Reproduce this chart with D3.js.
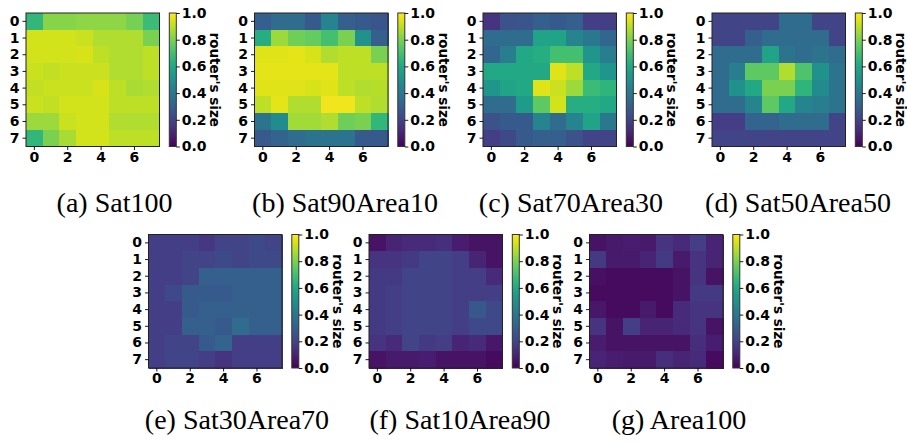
<!DOCTYPE html>
<html>
<head>
<meta charset="utf-8">
<script src="https://cdn.jsdelivr.net/npm/d3@7"></script>
<style>
  body { margin: 0; background: #fff; }
  svg { display: block; }
</style>
</head>
<body>
<svg id="chart" width="907" height="442"></svg>
<script>
// tick labels
var xTicks = [0, 2, 4, 6];
var yTicks = [0, 1, 2, 3, 4, 5, 6, 7];
var cbTicks = [0, 0.2, 0.4, 0.6, 0.8, 1.0];
var captions = ['(a) Sat100', '(b) Sat90Area10', '(c) Sat70Area30', '(d) Sat50Area50',
                '(e) Sat30Area70', '(f) Sat10Area90', '(g) Area100'];

// router's size per cell, rows 0..7 (top to bottom)
var sat100 = [
  [0.66, 0.82, 0.82, 0.83, 0.83, 0.83, 0.79, 0.68],
  [0.93, 0.93, 0.93, 0.92, 0.88, 0.88, 0.88, 0.80],
  [0.93, 0.93, 0.93, 0.94, 0.90, 0.88, 0.88, 0.90],
  [0.92, 0.91, 0.92, 0.92, 0.92, 0.88, 0.88, 0.90],
  [0.91, 0.92, 0.92, 0.92, 0.94, 0.90, 0.87, 0.88],
  [0.92, 0.91, 0.93, 0.93, 0.93, 0.90, 0.90, 0.90],
  [0.85, 0.85, 0.92, 0.93, 0.93, 0.88, 0.88, 0.88],
  [0.66, 0.80, 0.87, 0.93, 0.93, 0.90, 0.90, 0.90]
];
var sat90Area10 = [
  [0.30, 0.35, 0.35, 0.28, 0.45, 0.30, 0.28, 0.26],
  [0.62, 0.85, 0.78, 0.76, 0.70, 0.80, 0.50, 0.30],
  [0.95, 0.95, 0.96, 0.94, 0.88, 0.90, 0.90, 0.80],
  [0.96, 0.96, 0.96, 0.96, 0.96, 0.90, 0.90, 0.90],
  [0.95, 0.95, 0.95, 0.94, 0.95, 0.90, 0.88, 0.89],
  [0.90, 0.96, 0.88, 0.88, 0.98, 0.98, 0.90, 0.88],
  [0.38, 0.48, 0.86, 0.86, 0.88, 0.78, 0.80, 0.66],
  [0.28, 0.32, 0.35, 0.38, 0.38, 0.38, 0.28, 0.28]
];
var sat70Area30 = [
  [0.15, 0.25, 0.26, 0.30, 0.28, 0.30, 0.18, 0.18],
  [0.35, 0.35, 0.35, 0.58, 0.58, 0.45, 0.40, 0.33],
  [0.33, 0.42, 0.60, 0.62, 0.70, 0.70, 0.52, 0.42],
  [0.60, 0.60, 0.60, 0.60, 0.95, 0.90, 0.60, 0.52],
  [0.52, 0.58, 0.60, 0.95, 0.92, 0.85, 0.68, 0.65],
  [0.35, 0.35, 0.55, 0.75, 0.93, 0.62, 0.62, 0.60],
  [0.25, 0.28, 0.28, 0.45, 0.35, 0.45, 0.58, 0.40],
  [0.18, 0.22, 0.28, 0.30, 0.30, 0.25, 0.20, 0.20]
];
var sat50Area50 = [
  [0.20, 0.20, 0.20, 0.20, 0.35, 0.35, 0.20, 0.20],
  [0.20, 0.20, 0.30, 0.35, 0.35, 0.35, 0.35, 0.20],
  [0.35, 0.35, 0.35, 0.58, 0.38, 0.35, 0.38, 0.35],
  [0.35, 0.42, 0.75, 0.75, 0.88, 0.72, 0.50, 0.38],
  [0.35, 0.50, 0.60, 0.80, 0.80, 0.65, 0.48, 0.38],
  [0.35, 0.35, 0.45, 0.75, 0.60, 0.45, 0.42, 0.38],
  [0.18, 0.18, 0.32, 0.32, 0.35, 0.35, 0.35, 0.20],
  [0.20, 0.20, 0.20, 0.20, 0.20, 0.20, 0.20, 0.20]
];
var sat30Area70 = [
  [0.18, 0.18, 0.18, 0.16, 0.20, 0.20, 0.22, 0.20],
  [0.18, 0.18, 0.20, 0.20, 0.22, 0.20, 0.22, 0.22],
  [0.18, 0.18, 0.20, 0.30, 0.30, 0.30, 0.30, 0.30],
  [0.18, 0.22, 0.28, 0.28, 0.28, 0.30, 0.30, 0.30],
  [0.18, 0.18, 0.28, 0.30, 0.30, 0.30, 0.30, 0.30],
  [0.18, 0.18, 0.30, 0.30, 0.28, 0.35, 0.30, 0.30],
  [0.18, 0.20, 0.20, 0.28, 0.32, 0.18, 0.18, 0.18],
  [0.18, 0.20, 0.20, 0.18, 0.15, 0.18, 0.18, 0.18]
];
var sat10Area90 = [
  [0.05, 0.10, 0.12, 0.12, 0.14, 0.08, 0.05, 0.05],
  [0.15, 0.15, 0.17, 0.20, 0.20, 0.18, 0.10, 0.05],
  [0.17, 0.17, 0.20, 0.20, 0.20, 0.18, 0.18, 0.12],
  [0.17, 0.18, 0.20, 0.20, 0.20, 0.18, 0.18, 0.18],
  [0.17, 0.18, 0.20, 0.20, 0.20, 0.18, 0.27, 0.22],
  [0.17, 0.18, 0.20, 0.20, 0.20, 0.18, 0.22, 0.22],
  [0.15, 0.12, 0.20, 0.17, 0.18, 0.10, 0.12, 0.06],
  [0.05, 0.07, 0.07, 0.08, 0.05, 0.05, 0.05, 0.03]
];
var area100 = [
  [0.05, 0.07, 0.08, 0.07, 0.15, 0.12, 0.18, 0.10],
  [0.17, 0.07, 0.07, 0.10, 0.17, 0.07, 0.15, 0.10],
  [0.04, 0.03, 0.03, 0.03, 0.03, 0.05, 0.15, 0.05],
  [0.03, 0.03, 0.03, 0.03, 0.03, 0.05, 0.17, 0.17],
  [0.06, 0.03, 0.03, 0.07, 0.03, 0.12, 0.15, 0.15],
  [0.15, 0.05, 0.18, 0.10, 0.10, 0.12, 0.15, 0.05],
  [0.08, 0.05, 0.05, 0.05, 0.05, 0.05, 0.13, 0.08],
  [0.10, 0.08, 0.07, 0.07, 0.13, 0.10, 0.12, 0.03]
];

var grids = [sat100, sat90Area10, sat70Area30, sat50Area50, sat30Area70, sat10Area90, area100];

// panel placement (heatmap top-left corner)
var panelPos = [
  {x: 26, y: 13}, {x: 254.5, y: 13}, {x: 483, y: 13}, {x: 712, y: 13},
  {x: 148.5, y: 234.5}, {x: 369, y: 234.5}, {x: 589.5, y: 234.5}
];
var capX = [114.5, 345, 571, 798, 237, 460, 679];
var capY = [212, 212, 212, 212, 429, 429, 429];

var size = 133.5;
var cb = {dx: 143.3, width: 7};
var tickFont = 'DejaVu Sans, sans-serif';

var svg = d3.select('#chart');
var color = d3.scaleSequential(d3.interpolateViridis).domain([0, 1]);

// shared gradient for colorbars
var grad = svg.append('defs').append('linearGradient')
  .attr('id', 'viridis')
  .attr('x1', 0).attr('y1', 1).attr('x2', 0).attr('y2', 0);
d3.range(0, 1.0001, 0.05).forEach(function(t){
  grad.append('stop').attr('offset', t).attr('stop-color', color(t));
});

var idx = d3.range(8);

function styleAxis(a){
  a.select('.domain').remove();
  a.attr('font-family', tickFont).attr('font-size', 14).attr('font-weight', 'bold');
  a.selectAll('.tick text').attr('fill', '#000');
  a.selectAll('.tick line').attr('stroke', '#000').attr('stroke-width', 0.9);
}

grids.forEach(function(grid, p){
  var pos = panelPos[p];
  var g = svg.append('g').attr('transform', 'translate(' + pos.x + ',' + pos.y + ')');

  var x = d3.scaleBand().domain(idx).range([0, size]).padding(0);
  var y = d3.scaleBand().domain(idx).range([0, size]).padding(0);

  var cells = [];
  grid.forEach(function(row, r){
    row.forEach(function(v, c){ cells.push({r: r, c: c, v: v}); });
  });

  g.selectAll('rect.cell')
    .data(cells)
    .enter()
    .append('rect')
    .attr('class', 'cell')
    .attr('x', function(d){ return x(d.c); })
    .attr('y', function(d){ return y(d.r); })
    .attr('width', x.bandwidth() + 0.6)
    .attr('height', y.bandwidth() + 0.6)
    .attr('shape-rendering', 'crispEdges')
    .attr('fill', function(d){ return color(d.v); });

  g.append('rect')
    .attr('width', size).attr('height', size)
    .attr('fill', 'none').attr('stroke', '#222').attr('stroke-width', 1);

  g.append('g')
    .call(d3.axisLeft(y).tickValues(yTicks).tickSize(3.5).tickPadding(3))
    .call(styleAxis);

  g.append('g')
    .attr('transform', 'translate(0,' + size + ')')
    .call(d3.axisBottom(x).tickValues(xTicks).tickSize(3.5).tickPadding(2))
    .call(styleAxis);

  // colorbar
  var cbScale = d3.scaleLinear().domain([0, 1]).range([size, 0]);
  var cg = g.append('g').attr('transform', 'translate(' + cb.dx + ',0)');
  cg.append('rect')
    .attr('width', cb.width).attr('height', size)
    .attr('fill', 'url(#viridis)')
    .attr('stroke', '#333').attr('stroke-width', 1);
  cg.append('g')
    .attr('transform', 'translate(' + cb.width + ',0)')
    .call(d3.axisRight(cbScale).tickValues(cbTicks).tickFormat(d3.format('.1f')).tickSize(3.5).tickPadding(2))
    .call(styleAxis);
  // rotated label: baseline just right of the tick labels, glyphs pointing right
  cg.append('text')
    .attr('transform', 'translate(' + (cb.width + 34) + ',' + (size / 2) + ') rotate(90)')
    .attr('text-anchor', 'middle')
    .attr('font-family', tickFont)
    .attr('font-size', 13.5)
    .attr('font-weight', 'bold')
    .text("router's size");

  svg.append('text')
    .attr('x', capX[p])
    .attr('y', capY[p])
    .attr('text-anchor', 'middle')
    .attr('font-family', 'Liberation Serif, serif')
    .attr('font-size', 28)
    .text(captions[p]);
});
</script>
</body>
</html>
